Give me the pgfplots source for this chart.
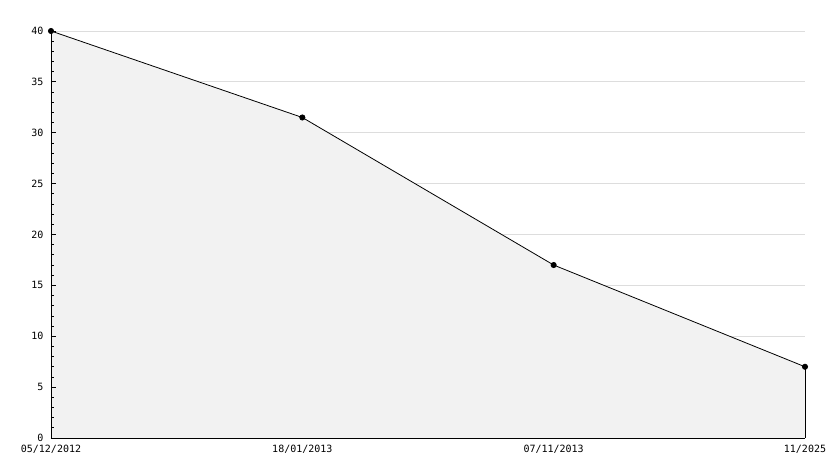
\documentclass[border=0pt]{standalone}
\usepackage{fontspec}
\setmainfont{DejaVu Sans Mono}
\usepackage{pgfplots}
\pgfplotsset{compat=1.18}
\definecolor{areafill}{HTML}{F2F2F2}
\definecolor{gridc}{HTML}{DDDDDD}
\pgfplotsset{base/.style={
  scale only axis,
  width=754pt, height=407pt,
  at={(0,0)}, anchor=south west,
  xmin=0, xmax=3, ymin=0, ymax=40,
  axis x line*=bottom, axis y line*=left,
  xtick={0,1,2,3},
  ytick={0,5,...,40},
  minor y tick num=4,
  tick align=inside,
  major tick length=5pt, minor tick length=3pt,
  clip=false,
}}
\begin{document}
\begin{tikzpicture}[x=1pt,y=1pt]
\begin{axis}[base,
  axis line style={draw=none},
  xticklabels={}, yticklabels={},
  xtick style={draw=none}, ytick style={draw=none},
  minor y tick num=0,
  ymajorgrids,
  major grid style={gridc, line width=0.8pt},
]
\addplot[fill=areafill, draw=none] coordinates {(0,40) (1,31.5) (2,17) (3,7)} \closedcycle;
\addplot[black, line width=0.8pt, mark=*, mark size=2.6pt] coordinates {(0,40) (1,31.5) (2,17) (3,7)};
\addplot[black, line width=0.8pt] coordinates {(3,7) (3,0)};
\end{axis}
\begin{axis}[base,
  axis line style={-, black, line width=0.8pt},
  xticklabels={05/12/2012,18/01/2013,07/11/2013,11/2025},
  xtick style={draw=none},
  ytick style={black, line width=0.8pt},
  ticklabel style={font=\fontsize{10}{12}\selectfont},
  /pgf/number format/assume math mode=true,
  yticklabel style={xshift=-4pt},
  xticklabel style={yshift=-4pt},
]
\end{axis}
\pgfresetboundingbox
\path (-51pt,-30pt) rectangle (783pt,438pt);
\end{tikzpicture}
\end{document}
